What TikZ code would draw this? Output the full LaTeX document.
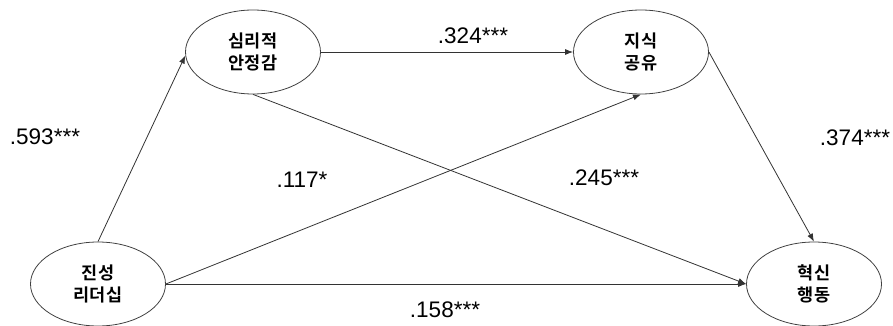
\documentclass[tikz,border=0pt]{standalone}
\usepackage{fontspec}
\setmainfont{Liberation Sans}
\newfontfamily\krfont{Noto Sans CJK KR}[BoldFont={* Bold}]
\usetikzlibrary{shapes.geometric,arrows.meta}
\tikzset{
  construct/.style={ellipse, draw=black!75, line width=0.8pt, minimum width=135pt,
    minimum height=84pt, inner sep=0pt, align=center,
    font=\krfont\bfseries\fontsize{17.5}{22}\selectfont},
  path/.style={draw=black!80, line width=0.8pt, -{Latex[length=8pt,width=6pt]}},
  coef/.style={font=\fontsize{22.5}{26}\selectfont, inner sep=0pt}
}
\begin{document}
\begin{tikzpicture}[x=1pt,y=-1pt]
  \useasboundingbox (0,0) rectangle (893,326);
  % latent constructs
  \node[construct] (psy) at (253,52) {심리적\\안정감};
  \node[construct] (know) at (641,52) {지식\\공유};
  \node[construct] (lead) at (98,284) {진성\\리더십};
  \node[construct] (innov) at (814,284) {혁신\\행동};
  % structural paths
  \draw[path] (lead.north) -- (psy.183);
  \draw[path] (psy.east) -- (know.west);
  \draw[path] (psy.south) -- (innov.west);
  \draw[path] (lead.east) -- (know.south);
  \draw[path] (lead.east) -- (innov.west);
  \draw[path] (know.east) -- (innov.north);
  % path coefficients
  \node[coef] (c1) at (45,137) {.593***};
  \node[coef] (c2) at (473,36) {.324***};
  \node[coef] (c3) at (302,180) {.117*};
  \node[coef] (c4) at (604,178) {.245***};
  \node[coef] (c5) at (855,138) {.374***};
  \node[coef] (c6) at (445,310) {.158***};
\end{tikzpicture}
\end{document}
